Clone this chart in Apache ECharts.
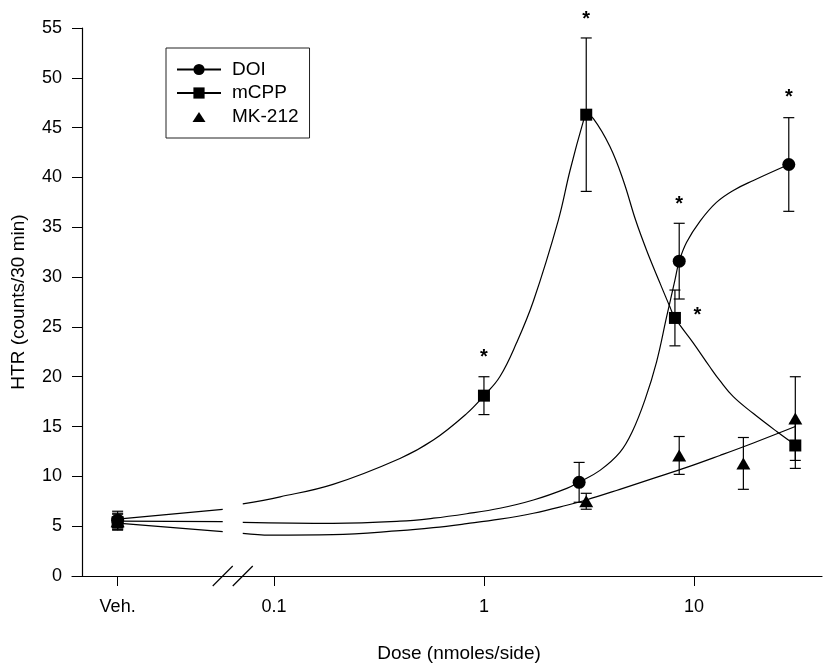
<!DOCTYPE html>
<html>
<head>
<meta charset="utf-8">
<title>HTR dose response</title>
<script src="https://cdn.jsdelivr.net/npm/echarts@6/dist/echarts.min.js"></script>
<style>
  html, body { margin: 0; padding: 0; background: #fff; }
  #chart { width: 826px; height: 663px; }
</style>
</head>
<body>
<div id="chart"></div>
<script>
// doses in nmoles/side; Veh. is drawn at 0.018, left of the axis break
var tickDose = [0.018, 0.1, 1, 10];
var tickLabels = ['Veh.', '0.1', '1', '10'];
var breakDose = [0.057, 0.071];

// means and SEM
var doiDose = [0.018, 2.84, 8.51, 28.3];
var doiMean = [5.6, 9.4, 31.6, 41.3];
var doiSem = [0.9, 2.0, 3.8, 4.7];

var mcppDose = [0.018, 1, 3.07, 8.12, 30.4];
var mcppMean = [5.4, 18.1, 46.3, 25.9, 13.1];
var mcppSem = [0.8, 1.9, 7.7, 2.8, 2.3];

var mkDose = [0.018, 3.07, 8.51, 17.2, 30.4];
var mkMean = [5.5, 7.5, 12.1, 11.3, 15.8];
var mkSem = [0.8, 0.8, 1.9, 2.6, 4.2];

// fitted curves ('-' = gap at the break)
var doiFitX = [0.018, 0.057, 0.063, 0.071, 0.191, 0.398, 0.574, 0.827, 1.19, 1.72, 2.48, 2.84, 3.57, 4.44, 5.09, 5.85, 6.64, 7.41, 8.12, 8.51, 9.23, 10.68, 12.8, 15.4, 19.2, 28.3];
var doiFitY = [5.5, 5.45, '-', 5.39, 5.29, 5.5, 5.8, 6.25, 6.8, 7.63, 8.8, 9.43, 10.6, 12.4, 14.5, 17.7, 21.5, 26.0, 29.7, 31.6, 33.5, 35.6, 37.5, 38.7, 39.7, 41.3];

var mcppFitX = [0.018, 0.057, 0.063, 0.071, 0.107, 0.191, 0.398, 0.574, 0.827, 1, 1.19, 1.43, 1.72, 2.26, 2.57, 2.97, 3.07, 3.32, 3.98, 4.61, 5.28, 5.95, 6.89, 7.69, 8.12, 9.92, 11.9, 13.3, 15.4, 19.2, 24.8, 30.4];
var mcppFitY = [5.7, 6.69, '-', 7.23, 7.95, 9.2, 11.8, 13.65, 16.3, 18.1, 20.0, 23.4, 27.6, 35.7, 40.7, 45.6, 46.3, 45.9, 43.1, 39.7, 35.7, 32.7, 29.4, 27.0, 25.9, 23.4, 21.0, 19.6, 18.0, 16.3, 14.5, 13.15];

var mkFitX = [0.018, 0.057, 0.063, 0.071, 0.096, 0.191, 0.398, 0.574, 0.827, 1.19, 1.72, 2.48, 3.07, 4.44, 6.4, 9.23, 13.3, 19.2, 30.4];
var mkFitY = [5.3, 4.45, '-', 4.28, 4.1, 4.15, 4.55, 4.85, 5.25, 5.7, 6.3, 7.1, 7.63, 8.7, 9.8, 10.9, 12.1, 13.35, 15.0];

// asterisks (p < 0.05)
var sigDose = [1, 3.07, 8.51, 28.3, 10.4];
var sigY = [22.3, 56.3, 37.7, 48.4, 26.5];

var FONT = '"Liberation Sans", Arial, Helvetica, sans-serif';

function lg(d) { return Math.log10(d); }

function points(xs, ys) {
  return xs.map(function (x, i) { return [lg(x), ys[i]]; });
}

function bars(xs, ms, ss) {
  return xs.map(function (x, i) { return [lg(x), ms[i], ss[i]]; });
}

var chart = echarts.init(document.getElementById('chart'), null, { renderer: 'canvas' });

function fitLine(name, xs, ys, symbol) {
  return {
    name: name,
    type: 'line',
    data: points(xs, ys),
    smooth: 0.4,
    connectNulls: false,
    showSymbol: false,
    symbol: symbol,
    symbolSize: 12,
    lineStyle: { color: '#000', width: 1.2 },
    itemStyle: { color: '#000', opacity: 1 },
    z: 2,
    silent: true
  };
}

function meanPoints(name, xs, ys, symbol, size) {
  return {
    name: name,
    type: 'scatter',
    data: points(xs, ys),
    symbol: symbol,
    symbolSize: size,
    itemStyle: { color: '#000', opacity: 1 },
    z: 4,
    silent: true
  };
}

var option = {
  backgroundColor: '#ffffff',
  animation: false,
  grid: { left: 72, right: 4, top: 28, bottom: 87, outerBoundsMode: 'none' },
  legend: {
    data: ['DOI', 'mCPP', { name: 'MK-212', icon: 'path://M0 0M14 14M0.5 12.5L7 2.5L13.5 12.5Z' }],
    orient: 'vertical',
    left: 166,
    top: 48,
    itemWidth: 44,
    itemHeight: 14,
    itemGap: 4.5,
    symbolKeepAspect: true,
    padding: [12, 11, 12, 10],
    borderColor: '#222',
    borderWidth: 1,
    selectedMode: false,
    itemStyle: { opacity: 1 },
    textStyle: { fontSize: 19, fontFamily: FONT, color: '#000', lineHeight: 19, padding: [0, 0, 0, 6] }
  },
  xAxis: {
    type: 'value',
    min: -1.962,
    max: 1.61,
    axisLine: { onZero: false, lineStyle: { color: '#000', width: 1.2 } },
    axisTick: { show: true, length: 10, customValues: tickDose.map(lg), lineStyle: { color: '#000' } },
    axisLabel: {
      customValues: tickDose.map(lg),
      margin: 22,
      fontSize: 18,
      fontFamily: FONT,
      color: '#000',
      formatter: function (v) {
        for (var i = 0; i < tickDose.length; i++) {
          if (Math.abs(lg(tickDose[i]) - v) < 1e-6) return tickLabels[i];
        }
        return '';
      }
    },
    splitLine: { show: false },
    name: 'Dose (nmoles/side)',
    nameLocation: 'middle',
    nameGap: 68,
    nameTextStyle: { fontSize: 19, fontFamily: FONT, color: '#000', padding: [0, 0, 0, 24] }
  },
  yAxis: {
    type: 'value',
    min: 0,
    max: 55,
    interval: 5,
    offset: -10,
    axisLine: { show: true, onZero: false, lineStyle: { color: '#000', width: 1.2 } },
    axisTick: { show: true, length: 10, lineStyle: { color: '#000' } },
    axisLabel: { fontSize: 18, fontFamily: FONT, color: '#000', margin: 20 },
    splitLine: { show: false },
    name: 'HTR (counts/30 min)',
    nameLocation: 'middle',
    nameGap: 54,
    nameTextStyle: { fontSize: 19, fontFamily: FONT, color: '#000' }
  },
  series: [
    fitLine('DOI', doiFitX, doiFitY, 'circle'),
    fitLine('mCPP', mcppFitX, mcppFitY, 'rect'),
    fitLine('MK-212 fit', mkFitX, mkFitY, 'none'),
    {
      name: 'SEM',
      type: 'custom',
      data: bars(doiDose, doiMean, doiSem)
        .concat(bars(mcppDose, mcppMean, mcppSem))
        .concat(bars(mkDose, mkMean, mkSem)),
      encode: { x: 0, y: 1 },
      z: 3,
      silent: true,
      renderItem: function (params, api) {
        var x = api.value(0), m = api.value(1), s = api.value(2);
        var top = api.coord([x, m + s]);
        var bot = api.coord([x, m - s]);
        var hw = 5.5;
        var st = { stroke: '#000', lineWidth: 1.2 };
        return {
          type: 'group',
          children: [
            { type: 'line', shape: { x1: top[0], y1: top[1], x2: bot[0], y2: bot[1] }, style: st },
            { type: 'line', shape: { x1: top[0] - hw, y1: top[1], x2: top[0] + hw, y2: top[1] }, style: st },
            { type: 'line', shape: { x1: bot[0] - hw, y1: bot[1], x2: bot[0] + hw, y2: bot[1] }, style: st }
          ]
        };
      }
    },
    meanPoints('DOI mean', doiDose, doiMean, 'circle', 13),
    meanPoints('mCPP mean', mcppDose, mcppMean, 'rect', 12),
    meanPoints('MK-212', mkDose, mkMean, 'triangle', [14, 12]),
    {
      name: 'significance',
      type: 'custom',
      data: points(sigDose, sigY),
      encode: { x: 0, y: 1 },
      clip: false,
      silent: true,
      z: 5,
      renderItem: function (params, api) {
        var p = api.coord([api.value(0), api.value(1)]);
        return {
          type: 'text',
          x: p[0],
          y: p[1] + 4,
          style: { text: '*', fontSize: 20, fontWeight: 'bold', fontFamily: FONT, fill: '#000', align: 'center', verticalAlign: 'middle' }
        };
      }
    },
    {
      name: 'axis break',
      type: 'custom',
      data: breakDose.map(function (d) { return [lg(d), 0]; }),
      encode: { x: 0, y: 1 },
      clip: false,
      silent: true,
      z: 5,
      renderItem: function (params, api) {
        var p = api.coord([api.value(0), 0]);
        return {
          type: 'line',
          shape: { x1: p[0] - 10, y1: p[1] + 10, x2: p[0] + 10, y2: p[1] - 10 },
          style: { stroke: '#000', lineWidth: 1.2 }
        };
      }
    }
  ]
};

chart.setOption(option);
</script>
</body>
</html>
